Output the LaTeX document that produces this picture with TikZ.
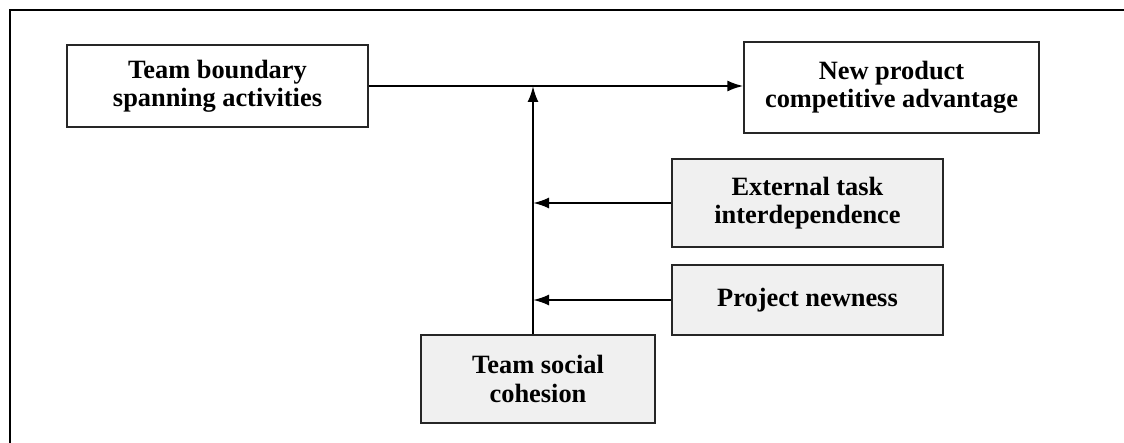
\documentclass[tikz,border=0pt]{standalone}
\usepackage{fontspec}
\setmainfont{Liberation Serif}
\usetikzlibrary{arrows.meta}
\usetikzlibrary{positioning}

\tikzset{
  factor/.style={draw=black!85, line width=0.6pt, align=center, inner sep=0pt,
    font=\fontsize{13.2}{14.2}\selectfont\bfseries},
  plainbox/.style={factor, fill=white},
  greybox/.style={factor, fill=black!6},
  arr/.style={line width=1.1pt, -{Latex[length=8pt,width=5.5pt]}}
}

\begin{document}
\begin{tikzpicture}[x=0.5pt, y=-0.5pt]

        \useasboundingbox (0,0) rectangle (1124,443);
        \draw[line width=1.1pt] (10,443) -- (10,10) -- (1124,10);

        \node[plainbox, minimum width=150.5pt, minimum height=41pt] (tbsa) at (217.5, 86) {Team boundary\\spanning activities};
        \node[plainbox, minimum width=147.5pt, minimum height=45.5pt] (npca) at (891.5, 87.5) {New product\\competitive advantage};
        \node[greybox, minimum width=135.5pt, minimum height=44pt] (eti) at (807.5, 203) {External task\\interdependence};
        \node[greybox, minimum width=135.5pt, minimum height=35pt] (pn) at (807.5, 300) {Project newness};
        \node[greybox, minimum width=117pt, minimum height=44pt] (tsc) at (538, 379) {Team social\\cohesion};

        \coordinate (jn) at (533, 86); % joint on main path

        \draw[arr] (tbsa.east) -- (tbsa.east -| npca.west);
        \draw[arr] (jn |- tsc.north) -- (jn);
        \draw[arr] (eti.west) -- (eti.west -| jn);
        \draw[arr] (pn.west) -- (pn.west -| jn);

\end{tikzpicture}
\end{document}
